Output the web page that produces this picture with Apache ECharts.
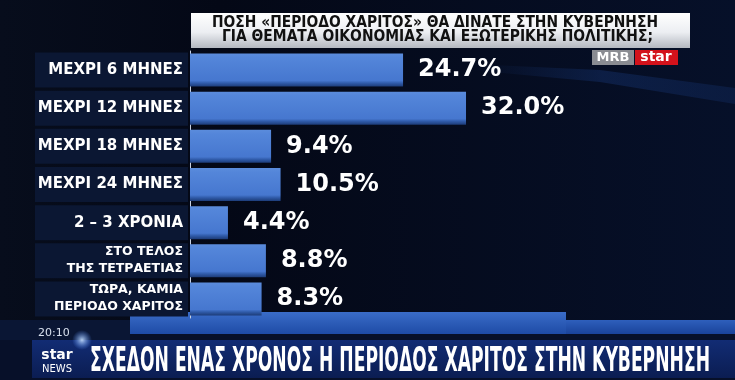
<!DOCTYPE html>
<html><head><meta charset="utf-8">
<script src="https://cdn.jsdelivr.net/npm/echarts@6/dist/echarts.min.js"></script>
<style>html,body{margin:0;padding:0;background:#050a18}#c{width:735px;height:380px}</style>
</head><body><div id="c"></div>
<script>
const categories = ['ΜΕΧΡΙ 6 ΜΗΝΕΣ','ΜΕΧΡΙ 12 ΜΗΝΕΣ','ΜΕΧΡΙ 18 ΜΗΝΕΣ','ΜΕΧΡΙ 24 ΜΗΝΕΣ','2 – 3 ΧΡΟΝΙΑ','ΣΤΟ ΤΕΛΟΣ\nΤΗΣ ΤΕΤΡΑΕΤΙΑΣ','ΤΩΡΑ, ΚΑΜΙΑ\nΠΕΡΙΟΔΟ ΧΑΡΙΤΟΣ'];
const values = [24.7, 32.0, 9.4, 10.5, 4.4, 8.8, 8.3];
const titleLines = ['ΠΟΣΗ «ΠΕΡΙΟΔΟ ΧΑΡΙΤΟΣ» ΘΑ ΔΙΝΑΤΕ ΣΤΗΝ ΚΥΒΕΡΝΗΣΗ','ΓΙΑ ΘΕΜΑΤΑ ΟΙΚΟΝΟΜΙΑΣ ΚΑΙ ΕΞΩΤΕΡΙΚΗΣ ΠΟΛΙΤΙΚΗΣ;'];
const headline = 'ΣΧΕΔΟΝ ΕΝΑΣ ΧΡΟΝΟΣ Η ΠΕΡΙΟΔΟΣ ΧΑΡΙΤΟΣ ΣΤΗΝ ΚΥΒΕΡΝΗΣΗ';
const clock = '20:10';

const ctx = document.createElement('canvas').getContext('2d');
function fitText(text, font, x, y, targetW, fill, z) {
  ctx.font = font;
  const w = ctx.measureText(text).width;
  return {type:'text', x:x, y:y, scaleX: targetW / w,
    style:{text:text, fill:fill, font:font, align:'left', verticalAlign:'middle'}, z:z};
}

const chart = echarts.init(document.getElementById('c'), null, {renderer:'canvas'});
const G = echarts.graphic;
chart.setOption({
  animation:false,
  backgroundColor: new G.LinearGradient(0,0,1,0,[{offset:0,color:'#070d1c'},{offset:0.3,color:'#040816'},{offset:1,color:'#061029'}]),
  grid:{left:190, top:51, width:320, height:267},
  xAxis:{type:'value', min:0, max:37.1, show:false},
  yAxis:{type:'category', data:categories, inverse:true,
    axisLine:{show:true, lineStyle:{color:'#c8d0e0', width:1}},
    axisTick:{show:false},
    axisLabel:{color:'#ffffff', backgroundColor:'#0b1733', width:143, height:35, padding:[0,5,0,5], align:'right', margin:2,
      formatter: v => v.indexOf('\n') >= 0 ? v.split('\n').map(s => '{s|' + s + '}').join('\n') : '{b|' + v + '}',
      rich:{
        b:{color:'#fff', fontFamily:'DejaVu Sans', fontWeight:'bold', fontSize:15, lineHeight:35, align:'right'},
        s:{color:'#fff', fontFamily:'DejaVu Sans', fontWeight:'bold', fontSize:12.5, lineHeight:17, align:'right'}
      }}
  },
  series:[{type:'bar', data:values, barWidth:33,
    itemStyle:{color:new G.LinearGradient(0,0,0,1,[{offset:0,color:'#5b8cdc'},{offset:0.12,color:'#5486da'},{offset:0.82,color:'#4677cf'},{offset:0.9,color:'#2f5aa8'},{offset:1,color:'#1d3c78'}])},
    label:{show:true, position:'right', distance:15, color:'#ffffff', fontFamily:'DejaVu Sans', fontWeight:'bold', fontSize:24,
      formatter:p=>p.value.toFixed(1)+'%'}
  }],
  graphic:[
    {type:'polygon', shape:{points:[[470,64],[600,70],[735,88],[735,104],[600,82],[470,70]]},
      style:{fill:new G.LinearGradient(0,0,1,0,[{offset:0,color:'rgba(25,60,130,0)'},{offset:0.5,color:'rgba(25,60,130,0.35)'},{offset:1,color:'rgba(25,60,130,0.25)'}])}, z:-1},
    {type:'rect', shape:{x:191,y:13,width:499,height:35}, style:{fill:new G.LinearGradient(0,0,0,1,[{offset:0,color:'#ffffff'},{offset:0.55,color:'#eceef2'},{offset:1,color:'#b4b8c0'}])}, z:1},
    fitText(titleLines[0], 'bold 15px "DejaVu Sans"', 212, 23.5, 446, '#111', 2),
    fitText(titleLines[1], 'bold 15px "DejaVu Sans"', 222, 37.5, 431, '#111', 2),
    {type:'rect', shape:{x:592,y:50,width:42,height:15}, style:{fill:'#8a8c92'}, z:2},
    {type:'text', x:613, y:57.5, style:{text:'MRB', fill:'#fff', font:'bold 13px "DejaVu Sans"', align:'center', verticalAlign:'middle'}, z:3},
    {type:'rect', shape:{x:635,y:50,width:43,height:15}, style:{fill:'#d3121b'}, z:2},
    {type:'text', x:656, y:57, style:{text:'star', fill:'#fff', font:'bold 14px "DejaVu Sans"', align:'center', verticalAlign:'middle'}, z:3},
    {type:'rect', shape:{x:0,y:320,width:735,height:60}, style:{fill:'#071029'}, z:0},
    {type:'rect', shape:{x:130,y:312,width:436,height:22}, style:{fill:new G.LinearGradient(0,0,0,1,[{offset:0,color:'#3a6cc8'},{offset:1,color:'#1e4ba6'}])}, z:0},
    {type:'rect', shape:{x:566,y:320,width:169,height:14}, style:{fill:new G.LinearGradient(0,0,0,1,[{offset:0,color:'#2e5fbc'},{offset:1,color:'#1a439a'}])}, z:0},
    {type:'rect', shape:{x:0,y:320,width:130,height:20}, style:{fill:'#0a1634'}, z:0},
    {type:'text', x:38, y:333, style:{text:clock, fill:'#d8e0ee', font:'11px "DejaVu Sans"', align:'left', verticalAlign:'middle'}, z:3},
    {type:'rect', shape:{x:32,y:340,width:703,height:38}, style:{fill:new G.LinearGradient(0,0,0,1,[{offset:0,color:'#122c74'},{offset:1,color:'#0b1d52'}])}, z:1},
    {type:'circle', shape:{cx:82,cy:340,r:10}, style:{fill:new G.RadialGradient(0.5,0.5,0.5,[{offset:0,color:'rgba(200,225,255,0.9)'},{offset:1,color:'rgba(80,140,255,0)'}])}, z:2},
    {type:'text', x:57, y:355, style:{text:'star', fill:'#fff', font:'bold 14px "DejaVu Sans"', align:'center', verticalAlign:'middle'}, z:3},
    {type:'text', x:57, y:369, style:{text:'NEWS', fill:'#fff', font:'10px "DejaVu Sans"', align:'center', verticalAlign:'middle'}, z:3},
    fitText(headline, 'bold 33px "DejaVu Sans"', 90, 362, 620, '#fff', 3)
  ]
});
</script></body></html>
